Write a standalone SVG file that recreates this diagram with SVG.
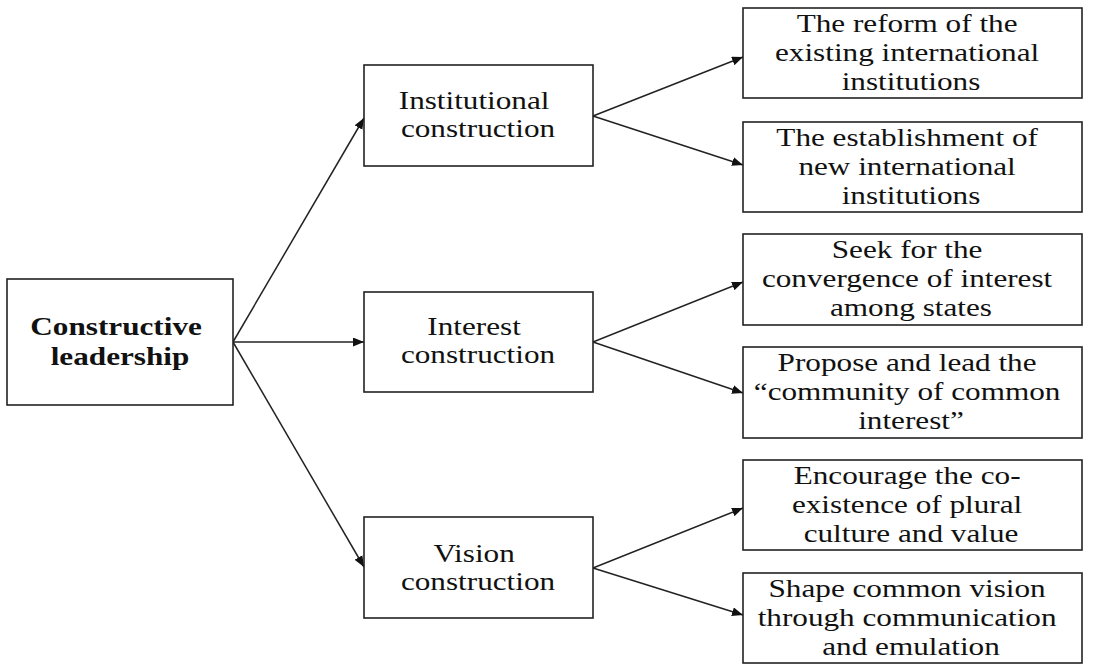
<svg xmlns="http://www.w3.org/2000/svg" width="1115" height="664" viewBox="0 0 1115 664">
  <style>
    .box { fill: #ffffff; stroke: #222222; stroke-width: 1.6; }
    .lbl { font-family: "Liberation Serif", "Times New Roman", serif; font-size: 26px; fill: #111111; text-anchor: middle; }
    .bold { font-weight: bold; }
    .link { fill: none; stroke: #222222; stroke-width: 1.5; marker-end: url(#arrow); }
  </style>
  <defs>
    <marker id="arrow" markerUnits="userSpaceOnUse" markerWidth="12" markerHeight="10" refX="11" refY="4.5" orient="auto">
      <path d="M0,0 L11,4.5 L0,9 Z" fill="#111111"/>
    </marker>
  </defs>

  <rect width="1115" height="664" fill="#ffffff"/>

  <!-- connectors -->
  <g id="connectors">
    <line class="link" x1="233" y1="342" x2="364" y2="118"/>
    <line class="link" x1="233" y1="342" x2="364" y2="342"/>
    <line class="link" x1="233" y1="342" x2="364" y2="567"/>

    <line class="link" x1="593" y1="116" x2="743" y2="57"/>
    <line class="link" x1="593" y1="116" x2="743" y2="165"/>

    <line class="link" x1="593" y1="342" x2="743" y2="282"/>
    <line class="link" x1="593" y1="342" x2="743" y2="393"/>

    <line class="link" x1="593" y1="568" x2="743" y2="508"/>
    <line class="link" x1="593" y1="568" x2="743" y2="615"/>
  </g>

  <!-- root -->
  <g id="constructive-leadership">
    <rect class="box" x="7" y="279" width="226" height="126"/>
    <text class="lbl bold" transform="translate(120,0) scale(1.2,1)">
      <tspan x="0" y="335">Constructive</tspan>
      <tspan x="0" y="365">leadership</tspan>
    </text>
  </g>

  <!-- second level -->
  <g id="institutional-construction">
    <rect class="box" x="364" y="65" width="229" height="101"/>
    <text class="lbl" transform="translate(478,0) scale(1.2,1)">
      <tspan x="0" y="109">Institutional</tspan>
      <tspan x="0" y="137">construction</tspan>
    </text>
  </g>

  <g id="interest-construction">
    <rect class="box" x="364" y="292" width="229" height="100"/>
    <text class="lbl" transform="translate(478,0) scale(1.2,1)">
      <tspan x="0" y="335">Interest</tspan>
      <tspan x="0" y="363">construction</tspan>
    </text>
  </g>

  <g id="vision-construction">
    <rect class="box" x="364" y="517" width="229" height="101"/>
    <text class="lbl" transform="translate(478,0) scale(1.2,1)">
      <tspan x="0" y="562">Vision</tspan>
      <tspan x="0" y="590">construction</tspan>
    </text>
  </g>

  <!-- third level -->
  <g id="reform-existing">
    <rect class="box" x="743" y="8" width="339" height="90"/>
    <text class="lbl" transform="translate(911,0) scale(1.2,1)">
      <tspan x="0" y="32">The reform of the</tspan>
      <tspan x="0" y="61">existing international</tspan>
      <tspan x="0" y="90">institutions</tspan>
    </text>
  </g>

  <g id="establish-new">
    <rect class="box" x="743" y="122" width="339" height="90"/>
    <text class="lbl" transform="translate(911,0) scale(1.2,1)">
      <tspan x="0" y="146">The establishment of</tspan>
      <tspan x="0" y="175">new international</tspan>
      <tspan x="0" y="204">institutions</tspan>
    </text>
  </g>

  <g id="seek-convergence">
    <rect class="box" x="743" y="234" width="339" height="91"/>
    <text class="lbl" transform="translate(911,0) scale(1.2,1)">
      <tspan x="0" y="258">Seek for the</tspan>
      <tspan x="0" y="287">convergence of interest</tspan>
      <tspan x="0" y="316">among states</tspan>
    </text>
  </g>

  <g id="common-interest">
    <rect class="box" x="743" y="347" width="339" height="91"/>
    <text class="lbl" transform="translate(911,0) scale(1.2,1)">
      <tspan x="0" y="371">Propose and lead the</tspan>
      <tspan x="0" y="400">“community of common</tspan>
      <tspan x="0" y="429">interest”</tspan>
    </text>
  </g>

  <g id="plural-culture">
    <rect class="box" x="743" y="460" width="339" height="90"/>
    <text class="lbl" transform="translate(911,0) scale(1.2,1)">
      <tspan x="0" y="484">Encourage the co-</tspan>
      <tspan x="0" y="513">existence of plural</tspan>
      <tspan x="0" y="542">culture and value</tspan>
    </text>
  </g>

  <g id="common-vision">
    <rect class="box" x="743" y="573" width="339" height="90"/>
    <text class="lbl" transform="translate(911,0) scale(1.2,1)">
      <tspan x="0" y="597">Shape common vision</tspan>
      <tspan x="0" y="626">through communication</tspan>
      <tspan x="0" y="655">and emulation</tspan>
    </text>
  </g>
</svg>
